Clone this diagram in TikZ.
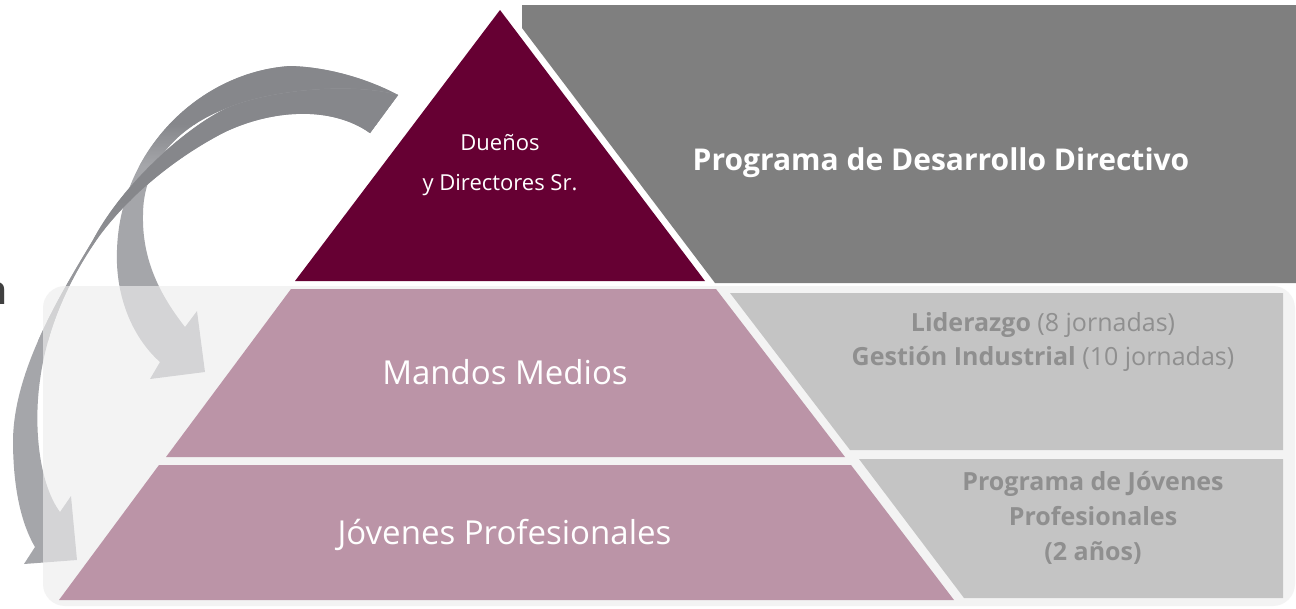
\documentclass[tikz,border=0pt]{standalone}
\usepackage{fontspec}
\setmainfont{Open Sans}
\definecolor{maroon}{HTML}{660033}
\definecolor{pinkband}{HTML}{BB94A7}
\definecolor{darkbox}{HTML}{7F7F7F}
\definecolor{lightbox}{HTML}{C4C4C4}
\definecolor{boxtext}{HTML}{8F8F8F}
\definecolor{backrect}{HTML}{EEEEEE}
\definecolor{arrdark}{HTML}{86878B}
\definecolor{arrlight}{HTML}{A5A6AA}
\definecolor{cuttext}{HTML}{404040}
\newcommand\ArrowBPath{(398,95) .. controls (370,80) and (330,67) .. (290,66) .. controls (200,72) and (120,150) .. (117,250) .. controls (115,300) and (135,340) .. (160,362) -- (150,379) -- (205,372) -- (197,311) -- (185,327) .. controls (160,295) and (142,260) .. (143,215) .. controls (143,170) and (170,130) .. (227,108) .. controls (280,92) and (340,110) .. (370,133) -- cycle}
\newcommand\ArrowAPath{(398,95) .. controls (350,82) and (270,90) .. (227,108) .. controls (190,125) and (125,180) .. (93,240) .. controls (60,295) and (14,370) .. (13,440) .. controls (13,490) and (22,525) .. (35,547) -- (24,564) -- (77,560) -- (71,496) -- (60,512) .. controls (40,485) and (33,430) .. (40,380) .. controls (48,320) and (75,270) .. (100,235) .. controls (130,195) and (175,158) .. (223,133) .. controls (270,110) and (330,105) .. (370,133) -- cycle}
\tikzset{
  pinklabel/.style={text=white, font=\fontsize{33}{40}\selectfont, inner sep=0pt},
  boxlabel/.style={text=boxtext, font=\fontsize{25}{35}\selectfont, align=center, inner sep=0pt},
}
\begin{document}
\begin{tikzpicture}[x=1pt,y=-1pt]
\useasboundingbox (0,0) rectangle (1296,608);
\fill[white] (0,0) rectangle (1296,608);
% arrow B (to Mandos Medios)
\begin{scope}
  \clip \ArrowBPath;
  \fill[arrlight] (0,0) rectangle (420,608);
  \shade[top color=arrdark, bottom color=arrlight] (0,124) rectangle (420,166);
  \fill[arrdark] (0,0) rectangle (420,125);
\end{scope}
% arrow A (to Jovenes Profesionales)
\begin{scope}
  \clip \ArrowAPath;
  \fill[arrlight] (0,0) rectangle (420,608);
  \shade[top color=arrdark, bottom color=arrlight] (0,200) rectangle (420,340);
  \fill[arrdark] (0,0) rectangle (420,201);
\end{scope}
% translucent background panel
\fill[backrect, fill opacity=0.65, rounded corners=22pt] (43,286) rectangle (1295,606);
% pyramid
\fill[pinkband] (291,289) -- (716,289) -- (845,457) -- (166,457) -- cycle;
\fill[pinkband] (159,465) -- (851,465) -- (954,600) -- (59,600) -- cycle;
\fill[maroon] (500,10) -- (705,281) -- (295,281) -- cycle;
% program boxes
\fill[darkbox] (522,5) -- (1296,5) -- (1296,283) -- (715,283) -- (522,28) -- cycle;
\fill[lightbox] (730,293) -- (1283,293) -- (1283,450) -- (850,450) -- cycle;
\fill[lightbox] (859,459) -- (1283,459) -- (1283,598) -- (964,598) -- cycle;
% texts
\node[text=white, font=\fontsize{22}{40}\selectfont, align=center, inner sep=0pt] (dir) at (500,165) {Dueños\\y Directores Sr.};
\node[pinklabel, anchor=base] (mm) at (505,384) {Mandos Medios};
\node[pinklabel, anchor=base] (jp) at (504.5,544) {Jóvenes Profesionales};
\node[text=white, font=\fontsize{30}{36}\selectfont\bfseries, anchor=base, inner sep=0pt] (pdd) at (941,170) {Programa de Desarrollo Directivo};
\node[boxlabel] (lid) at (1043,342) {{\bfseries Liderazgo} (8 jornadas)\\{\bfseries Gestión Industrial} (10 jornadas)};
\node[boxlabel, font=\fontsize{25}{35}\selectfont\bfseries] (pjp) at (1093,518) {Programa de Jóvenes\\Profesionales\\(2 años)};
\node[text=cuttext, font=\fontsize{40}{44}\selectfont\bfseries, anchor=base east, inner sep=0pt] (cut) at (8,304) {a};
\end{tikzpicture}
\end{document}
